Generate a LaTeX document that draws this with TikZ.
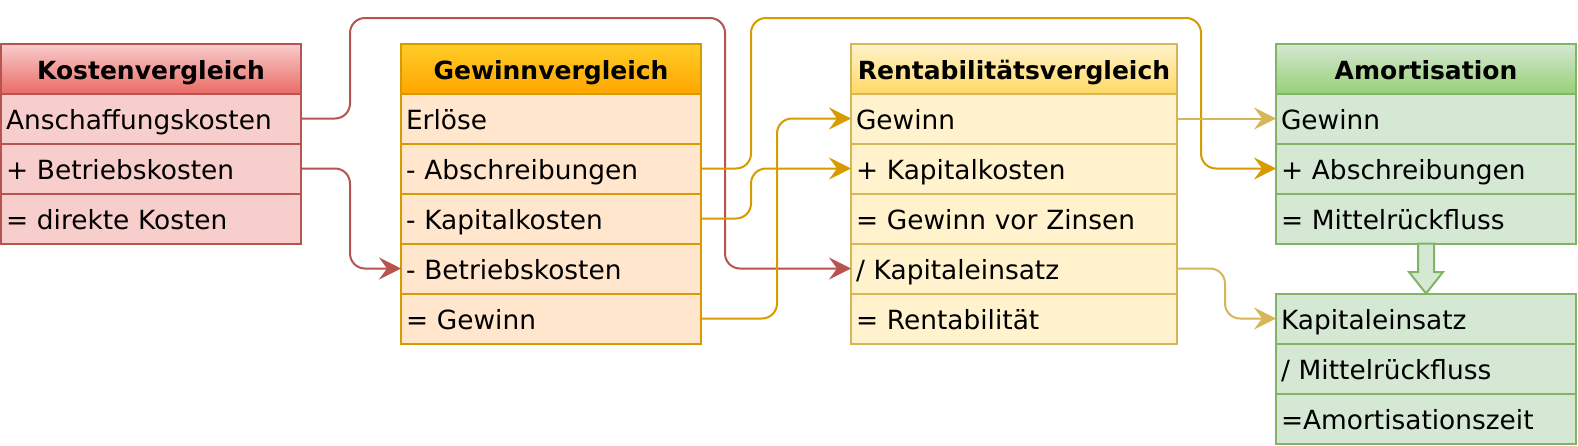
\documentclass[tikz,border=0pt]{standalone}
\usepackage{fontspec}
\setmainfont{DejaVu Sans}
\usetikzlibrary{arrows.meta}
\definecolor{redS}{HTML}{B85450}
\definecolor{redF}{HTML}{F8CECC}
\definecolor{redG}{HTML}{EA6B66}
\definecolor{orS}{HTML}{D79B00}
\definecolor{orF}{HTML}{FFE6CC}
\definecolor{orHT}{HTML}{FFCD28}
\definecolor{orHB}{HTML}{FFA500}
\definecolor{yeS}{HTML}{D6B656}
\definecolor{yeF}{HTML}{FFF2CC}
\definecolor{yeG}{HTML}{FFD966}
\definecolor{grS}{HTML}{82B366}
\definecolor{grF}{HTML}{D5E8D4}
\definecolor{grG}{HTML}{97D077}
\newcommand\rowfont{\fontsize{26.4}{30}\selectfont}
\newcommand\headfont{\fontsize{25}{30}\selectfont\bfseries}
\newcommand\mystrut{\rule[-7pt]{0pt}{36pt}}
\tikzset{
  base/.style={rectangle, line width=2pt, outer sep=0pt, anchor=north west,
    minimum height=50pt, inner xsep=5pt, inner ysep=0pt,
    execute at begin node=\mystrut},
  w300/.style={minimum width=300pt, text width=290pt},
  w326/.style={minimum width=326pt, text width=316pt},
  row/.style={base, align=left, font=\rowfont},
  head/.style={base, align=center, font=\headfont},
  redrow/.style={row, draw=redS, fill=redF},
  redhead/.style={head, draw=redS, top color=redF, bottom color=redG},
  orrow/.style={row, draw=orS, fill=orF},
  orhead/.style={head, draw=orS, top color=orHT, bottom color=orHB},
  yerow/.style={row, draw=yeS, fill=yeF},
  yehead/.style={head, draw=yeS, top color=yeF, bottom color=yeG},
  grrow/.style={row, draw=grS, fill=grF},
  grhead/.style={head, draw=grS, top color=grF, bottom color=grG},
  conn/.style={-{Stealth[length=22pt,width=22pt,inset=8pt]}, line width=2pt, rounded corners=15pt},
}
\begin{document}
\begin{tikzpicture}[x=1pt,y=-1pt]
\useasboundingbox[fill=white] (0,0) rectangle (1578,445);

% Box 1
\node[redhead, w300] (kh) at (1,43.5) {Kostenvergleich};
\node[redrow, w300] (k1) at (1,93.5) {Anschaffungskosten};
\node[redrow, w300] (k2) at (1,143.5) {+ Betriebskosten};
\node[redrow, w300] (k3) at (1,193.5) {= direkte Kosten};

% Box 2
\node[orhead, w300] (gh) at (401,43.5) {Gewinnvergleich};
\node[orrow, w300] (g1) at (401,93.5) {Erlöse};
\node[orrow, w300] (g2) at (401,143.5) {- Abschreibungen};
\node[orrow, w300] (g3) at (401,193.5) {- Kapitalkosten};
\node[orrow, w300] (g4) at (401,243.5) {- Betriebskosten};
\node[orrow, w300] (g5) at (401,293.5) {= Gewinn};

% Box 3
\node[yehead, w326] (rh) at (851,43.5) {Rentabilitätsvergleich};
\node[yerow, w326] (r1) at (851,93.5) {Gewinn};
\node[yerow, w326] (r2) at (851,143.5) {+ Kapitalkosten};
\node[yerow, w326] (r3) at (851,193.5) {= Gewinn vor Zinsen};
\node[yerow, w326] (r4) at (851,243.5) {/ Kapitaleinsatz};
\node[yerow, w326] (r5) at (851,293.5) {= Rentabilität};

% Box 4
\node[grhead, w300] (ah) at (1276,43.5) {Amortisation};
\node[grrow, w300] (a1) at (1276,93.5) {Gewinn};
\node[grrow, w300] (a2) at (1276,143.5) {+ Abschreibungen};
\node[grrow, w300] (a3) at (1276,193.5) {= Mittelrückfluss};

% Box 5
\node[grrow, w300] (b1) at (1276,293.5) {Kapitaleinsatz};
\node[grrow, w300] (b2) at (1276,343.5) {/ Mittelrückfluss};
\node[grrow, w300] (b3) at (1276,393.5) {=Amortisationszeit};

% block arrow
\draw[draw=grS, fill=grF, line width=2pt, line join=miter]
  (1418,243.5) -- (1418,272) -- (1409,272) -- (1426,293.5) -- (1443,272)
  -- (1434,272) -- (1434,243.5) -- cycle;

% connectors
\draw[conn, draw=redS] (k1.east) -| (350,18) -| (725,268.5) -- (r4.west);
\draw[conn, draw=redS] (k2.east) -| (350,268.5) -- (g4.west);
\draw[conn, draw=orS] (g2.east) -| (751,18) -| (1201,168.5) -- (a2.west);
\draw[conn, draw=orS] (g3.east) -| (751,168.5) -- (r2.west);
\draw[conn, draw=orS] (g5.east) -| (777,118.5) -- (r1.west);
\draw[conn, draw=yeS] (r1.east) -- (a1.west);
\draw[conn, draw=yeS] (r4.east) -| (1225,318.5) -- (b1.west);
\end{tikzpicture}
\end{document}
